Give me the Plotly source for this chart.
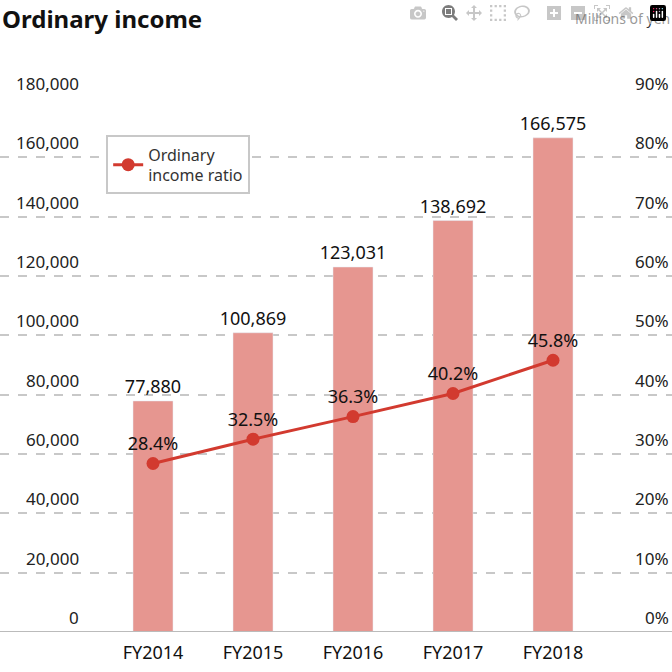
import plotly.graph_objects as go

years = ["FY2014", "FY2015", "FY2016", "FY2017", "FY2018"]
income = [77880, 100869, 123031, 138692, 166575]
ratio = [28.4, 32.5, 36.3, 40.2, 45.8]
left_ticks = [0, 20000, 40000, 60000, 80000, 100000, 120000, 140000, 160000, 180000]
right_ticks = [0, 10, 20, 30, 40, 50, 60, 70, 80, 90]

FONT = "Noto Sans"
idx = list(range(len(years)))

fig = go.Figure()
fig.add_trace(go.Bar(
    x=idx, y=income, width=0.4, marker_color="#e69690", showlegend=False,
    text=[f"{v:,}" for v in income], textposition="outside", constraintext="none",
    textfont=dict(size=18, color="#111", family=FONT), cliponaxis=False,
))
fig.add_trace(go.Scatter(
    x=idx, y=ratio, yaxis="y2", mode="lines+markers+text",
    name="Ordinary<br>income ratio",
    line=dict(color="#d23a2f", width=3), marker=dict(size=13, color="#d23a2f"),
    text=[f"{v}%" for v in ratio], textposition="top center",
    textfont=dict(size=18, color="#111", family=FONT), cliponaxis=False,
))

ann = []
for t in left_ticks:
    ann.append(dict(x=0.12, xref="paper", y=t, yref="y", text=f"{t:,}", showarrow=False,
                    xanchor="right", yanchor="bottom", yshift=1, font=dict(size=17, color="#222", family=FONT)))
for t in right_ticks:
    ann.append(dict(x=0.998, xref="paper", y=t, yref="y2", text=f"{t}%", showarrow=False,
                    xanchor="right", yanchor="bottom", yshift=1, font=dict(size=17, color="#222", family=FONT)))
ann.append(dict(x=0.0, xref="paper", y=1.0, yref="paper", yshift=80, text="<b>Ordinary income</b>",
                showarrow=False, xanchor="left", yanchor="middle", font=dict(size=24, color="#111", family=FONT)))
ann.append(dict(x=1.0, xref="paper", y=1.0, yref="paper", yshift=80, text="Millions of yen",
                showarrow=False, xanchor="right", yanchor="middle", font=dict(size=14, color="#333", family=FONT)))

fig.update_layout(
    width=672, height=672, margin=dict(l=0, r=0, t=98, b=40),
    paper_bgcolor="white", plot_bgcolor="white",
    xaxis=dict(range=[-1.53, 5.19], tickvals=idx, ticktext=years, showgrid=False, zeroline=False,
               tickfont=dict(size=18, color="#111", family=FONT), ticklabelstandoff=8),
    yaxis=dict(range=[0, 180000], tickvals=left_ticks, showticklabels=False, showgrid=True,
               gridcolor="#c8c8c8", griddash="dash", gridwidth=1.5, zeroline=False),
    yaxis2=dict(range=[0, 90], overlaying="y", side="right", showticklabels=False, showgrid=False,
                zeroline=False),
    legend=dict(x=0.158, y=0.93, xanchor="left", yanchor="top", bordercolor="#c8c8c8", borderwidth=2,
                bgcolor="white", font=dict(size=16, color="#333", family=FONT)),
    annotations=ann,
    shapes=[dict(type="line", xref="paper", x0=0, x1=1, yref="y", y0=0, y1=0,
                 line=dict(color="#bbbbbb", width=2))],
)
fig.write_html("out.html", post_script="document.body.style.margin='0';document.body.style.overflow='hidden';")
